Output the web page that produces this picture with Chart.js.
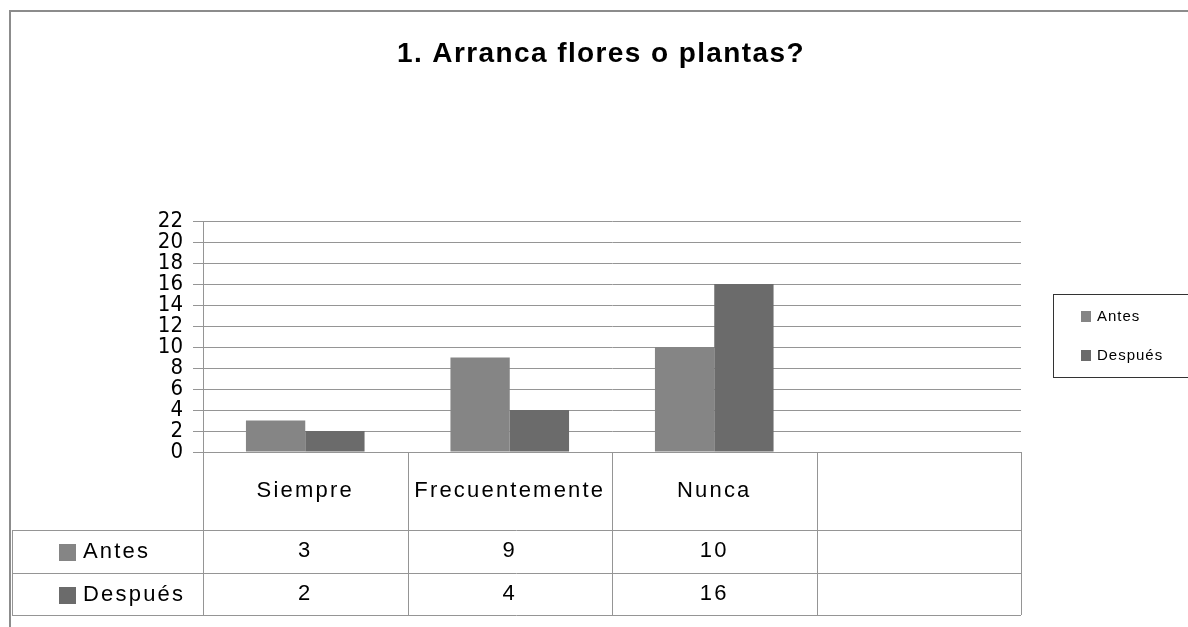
<!DOCTYPE html>
<html>
<head>
<meta charset="utf-8">
<script src="https://cdn.jsdelivr.net/npm/chart.js@4.4.1/dist/chart.umd.min.js"></script>
<style>
  body { margin: 0; background: #ffffff; }
  #main-chart { display: block; }
</style>
</head>
<body>
<canvas id="main-chart" width="1188" height="627"></canvas>
<script>
// data
const chart_title = "1. Arranca flores o plantas?";
const categories = ["Siempre", "Frecuentemente", "Nunca", ""];
const series_names = ["Antes", "Después"];
const antes_values = [3, 9, 10, null];
const despues_values = [2, 4, 16, null];
const y_max = 22;
const y_step = 2;

const series_colors = ["#858585", "#6b6b6b"];
const line_color = "#959595";

function hline(ctx, x1, x2, y)
{
    ctx.beginPath();
    ctx.moveTo(x1, y + 0.5);
    ctx.lineTo(x2, y + 0.5);
    ctx.stroke();
}

function vline(ctx, x, y1, y2)
{
    ctx.beginPath();
    ctx.moveTo(x + 0.5, y1);
    ctx.lineTo(x + 0.5, y2);
    ctx.stroke();
}

// title, legend, outer frame and data table are drawn by hand
const extras_plugin = {
    id: "extras",
    afterDraw(chart)
    {
        const ctx = chart.ctx;
        const area = chart.chartArea;
        const xs = chart.scales.x;
        const all_values = [antes_values, despues_values];

        ctx.save();

        // outer frame
        ctx.strokeStyle = "#8c8c8c";
        ctx.lineWidth = 2;
        ctx.beginPath();
        ctx.moveTo(10, 627);
        ctx.lineTo(10, 11);
        ctx.lineTo(1188, 11);
        ctx.stroke();

        // title
        ctx.fillStyle = "#000000";
        ctx.font = "bold 28px 'Liberation Sans', Arial, sans-serif";
        ctx.letterSpacing = "1.4px";
        ctx.textAlign = "center";
        ctx.textBaseline = "alphabetic";
        ctx.fillText(chart_title, 601, 62);

        // legend box
        ctx.letterSpacing = "1px";
        ctx.lineWidth = 1;
        ctx.strokeStyle = "#333333";
        ctx.strokeRect(1053.5, 294.5, 140, 83);
        ctx.font = "15px 'Liberation Sans', Arial, sans-serif";
        ctx.textAlign = "left";
        ctx.textBaseline = "middle";
        for (let s = 0; s < series_names.length; s++)
        {
            const cy = 316 + s * 39;
            ctx.fillStyle = series_colors[s];
            ctx.fillRect(1081, cy - 5, 10, 11);
            ctx.fillStyle = "#000000";
            ctx.fillText(series_names[s], 1097, cy + 1);
        }

        // data table
        const head_top = area.bottom;
        const row_tops = [530, 573];
        const table_bottom = 615;
        const n = categories.length;
        const half = (xs.getPixelForValue(1) - xs.getPixelForValue(0)) / 2;

        ctx.strokeStyle = line_color;
        ctx.lineWidth = 1;
        hline(ctx, area.left, area.right, head_top);
        for (const y of row_tops)
            hline(ctx, 12, area.right, y);
        hline(ctx, 12, area.right, table_bottom);
        vline(ctx, 12, row_tops[0], table_bottom);
        vline(ctx, area.left, area.top, table_bottom);
        for (let i = 0; i < n; i++)
        {
            const right_edge = Math.round(xs.getPixelForValue(i) + half);
            vline(ctx, right_edge, head_top, table_bottom);
        }

        ctx.font = "22px 'Liberation Sans', Arial, sans-serif";
        ctx.letterSpacing = "2.2px";
        ctx.textAlign = "center";
        ctx.textBaseline = "middle";
        ctx.fillStyle = "#000000";
        for (let i = 0; i < n; i++)
        {
            const cx = xs.getPixelForValue(i);
            ctx.fillText(categories[i], cx, 491);
            for (let s = 0; s < all_values.length; s++)
            {
                const v = all_values[s][i];
                if (v !== null)
                    ctx.fillText(String(v), cx, (s === 0 ? 551 : 594));
            }
        }

        ctx.textAlign = "left";
        for (let s = 0; s < series_names.length; s++)
        {
            const cy = s === 0 ? 552 : 595;
            ctx.fillStyle = series_colors[s];
            ctx.fillRect(59, cy - 8, 17, 17);
            ctx.fillStyle = "#000000";
            ctx.fillText(series_names[s], 83, cy);
        }

        ctx.restore();
    }
};

const data = {
    labels: categories,
    datasets: [
        {
            label: series_names[0],
            data: antes_values,
            backgroundColor: series_colors[0],
            borderWidth: 0,
        },
        {
            label: series_names[1],
            data: despues_values,
            backgroundColor: series_colors[1],
            borderWidth: 0,
        }
    ]
};

const config = {
    type: "bar",
    data: data,
    options: {
        responsive: false,
        animation: false,
        devicePixelRatio: 1,
        layout: {
            padding: { left: 10, right: 167, top: 221, bottom: 175 }
        },
        datasets: {
            bar: {
                categoryPercentage: 0.58,
                barPercentage: 1.0
            }
        },
        plugins: {
            legend: { display: false },
            title: { display: false },
            tooltip: { enabled: false }
        },
        scales: {
            x: {
                display: false
            },
            y: {
                min: 0,
                max: y_max,
                afterFit(scale) { scale.width = 193; },
                border: { display: true, color: line_color, width: 1 },
                grid: {
                    color: line_color,
                    lineWidth: 1,
                    tickLength: 10,
                    drawTicks: true
                },
                ticks: {
                    stepSize: y_step,
                    autoSkip: false,
                    padding: 10,
                    color: "#000000",
                    font: { family: "'DejaVu Sans Condensed', 'DejaVu Sans', sans-serif", size: 22, lineHeight: 0.9 }
                }
            }
        }
    },
    plugins: [extras_plugin]
};

const main_chart = new Chart(document.getElementById("main-chart").getContext("2d"), config);
</script>
</body>
</html>
